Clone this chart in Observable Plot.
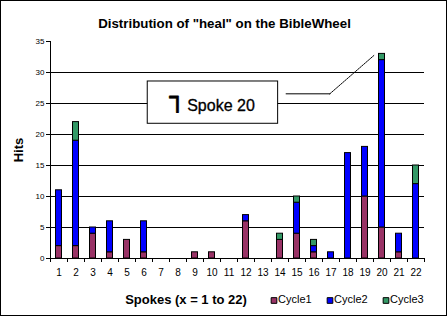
<!DOCTYPE html>
<html>
<head>
<meta charset="utf-8">
<script src="https://cdn.jsdelivr.net/npm/d3@7"></script>
<script src="https://cdn.jsdelivr.net/npm/@observablehq/plot@0.6"></script>
<style>
  html, body { margin: 0; padding: 0; background: white; }
  #wrap { position: relative; width: 448px; height: 319px; overflow: hidden; }
  #border { position: absolute; left: 0; top: 0; width: 447px; height: 316px; box-sizing: border-box; border: 1px solid black; pointer-events: none; }
</style>
</head>
<body>
<div id="wrap"><div id="border"></div></div>
<script>
// ---- data ----
const spokes = [1, 2, 3, 4, 5, 6, 7, 8, 9, 10, 11, 12, 13, 14, 15, 16, 17, 18, 19, 20, 21, 22];
const cycle1 = [2, 2, 4, 1, 3, 1, 0, 0, 1, 1, 0, 6, 0, 3, 4, 1, 0, 0, 10, 5, 1, 0];
const cycle2 = [9, 17, 1, 5, 0, 5, 0, 0, 0, 0, 0, 1, 0, 0, 5, 1, 1, 17, 8, 27, 3, 12];
const cycle3 = [0, 3, 0, 0, 0, 0, 0, 0, 0, 0, 0, 0, 0, 1, 1, 1, 0, 0, 0, 1, 0, 3];
const seriesNames = ["Cycle1", "Cycle2", "Cycle3"];
const seriesColors = ["#993366", "#0000FF", "#339966"];
const yTicks = [0, 5, 10, 15, 20, 25, 30, 35];
const titleText = "Distribution of \"heal\" on the BibleWheel";
const xLabel = "Spokes (x = 1 to 22)";
const yLabel = "Hits";
const calloutLabel = "Spoke 20";
const calloutGlyph = "┐";

// ---- build stacked rows ----
const seriesValues = [cycle1, cycle2, cycle3];
const rows = [];
spokes.forEach((s, i) => {
  let cum = 0;
  seriesNames.forEach((name, k) => {
    const v = seriesValues[k][i];
    if (v > 0) rows.push({spoke: s, series: name, y1: cum, y2: cum + v});
    cum += v;
  });
});
const boundaries = [0, ...spokes].map(s => s + 0.5);
const grid = yTicks.filter(t => t > 0 && t < 35);

// callout geometry in data units (box, leader line)
const box = {x1: 6.22, x2: 13.89, y1: 21.73, y2: 28.55};
const leaderFlat = [{x: 14.36, y: 26.56}, {x: 16.93, y: 26.56}];
const leaderDiag = [{x: 16.93, y: 26.56}, {x: 19.52, y: 32.74}];

const font = "Liberation Sans, Arial, Helvetica, sans-serif";

const legendMarks = seriesNames.flatMap((name, i) => [
  Plot.dot([name], {frameAnchor: "bottom-left", dx: 223.5 + 56 * i, dy: 42, symbol: "square", r: 3.2, fill: seriesColors[i], stroke: "black", strokeWidth: 1}),
  Plot.text([name], {frameAnchor: "bottom-left", dx: 227.5 + 56 * i, dy: 41, text: d => d, textAnchor: "start", lineAnchor: "middle", fontSize: 11, fill: "black"})
]);

const chart = Plot.plot({
  width: 448,
  height: 319,
  marginLeft: 50,
  marginRight: 24,
  marginTop: 41,
  marginBottom: 61,
  style: {fontFamily: font, fontSize: "10px", background: "transparent", color: "black", overflow: "visible"},
  x: {domain: [0.5, 22.5], axis: null},
  y: {domain: [0, 35], axis: null},
  color: {domain: seriesNames, range: seriesColors},
  marks: [
    Plot.ruleY(grid, {stroke: "black", strokeWidth: 1, strokeOpacity: 1}),
    // callout box (white, covers gridlines)
    Plot.rect([box], {x1: "x1", x2: "x2", y1: "y1", y2: "y2", fill: "white", stroke: "black", strokeWidth: 1}),
    Plot.line(leaderFlat, {x: "x", y: "y", stroke: "black", strokeWidth: 1}),
    Plot.line(leaderDiag, {x: "x", y: "y", stroke: "black", strokeWidth: 1, strokeDasharray: "1.5,1"}),
    Plot.text([calloutLabel], {x: 8.54, y: 24.6, text: d => d, textAnchor: "start", lineAnchor: "middle", fontSize: 16, fill: "black", stroke: "black", strokeWidth: 0.3}),
    Plot.text([calloutGlyph], {x: 7.5, y: 26.0, text: d => d, textAnchor: "start", lineAnchor: "middle", fontSize: 26, fontFamily: "DejaVu Sans", fill: "black", stroke: "black", strokeWidth: 0.8}),
    // bars
    Plot.rect(rows, {x1: d => d.spoke - 0.5, x2: d => d.spoke + 0.5, y1: "y1", y2: "y2", fill: "series", stroke: "black", strokeWidth: 1, insetLeft: 5.5, insetRight: 5.5}),
    Plot.ruleY([0], {stroke: "black", strokeWidth: 1}),
    Plot.ruleX([0.5], {y1: 0, y2: 35, stroke: "black", strokeWidth: 1}),
    Plot.axisY({ticks: yTicks, tickSize: 4, tickPadding: 2, fontSize: 8, label: null, tickFormat: d => String(d)}),
    Plot.axisX({ticks: boundaries, tickSize: 4, tickFormat: () => "", label: null}),
    Plot.axisX({ticks: spokes, tickSize: 0, tickPadding: 10, fontSize: 10, label: null, tickFormat: d => String(d)}),
    // title & axis labels
    Plot.text([titleText], {frameAnchor: "top-left", dx: 174, dy: -18, text: d => d, textAnchor: "middle", lineAnchor: "middle", fontSize: 13.3, fontWeight: "bold", fill: "black"}),
    Plot.text([xLabel], {frameAnchor: "bottom-left", dx: 135.5, dy: 41, text: d => d, textAnchor: "middle", lineAnchor: "middle", fontSize: 13, fontWeight: "bold", fill: "black"}),
    Plot.text([yLabel], {frameAnchor: "left", dx: -32, text: d => d, rotate: -90, textAnchor: "middle", lineAnchor: "middle", fontSize: 13, fontWeight: "bold", fill: "black"}),
    ...legendMarks
  ]
});
chart.style.position = "absolute";
chart.style.left = "0px";
chart.style.top = "0px";
document.getElementById("wrap").appendChild(chart);
</script>
</body>
</html>
